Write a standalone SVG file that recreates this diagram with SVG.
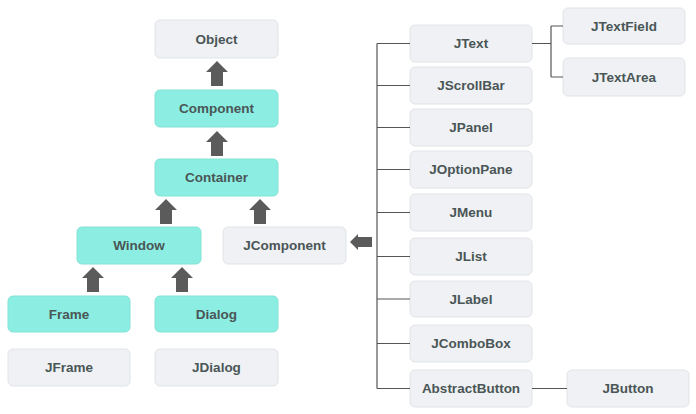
<svg xmlns="http://www.w3.org/2000/svg" width="696" height="414" viewBox="0 0 696 414">
<defs>
<style>
.g{fill:#eff1f4;stroke:#e1e4e8;stroke-width:1}
.t{fill:#8ceee2;stroke:#84e2d6;stroke-width:1}
text{font-family:"Liberation Sans",Arial,sans-serif;font-weight:bold;font-size:13.5px;fill:#4a5656;text-anchor:middle;dominant-baseline:central}
.ln{stroke:#555;stroke-width:1.2;fill:none}
.ar{fill:#5b5b5b}
</style>
<path id="up" d="M0,0 L11,11 L6,11 L6,25 L-6,25 L-6,11 L-11,11 Z"/>
</defs>
<rect width="696" height="414" fill="#fff"/>
<g id="Object"><rect class="g" x="155" y="20" width="123" height="38" rx="5"/><text x="216.5" y="39">Object</text></g>
<g id="Component"><rect class="t" x="155" y="90" width="123" height="37" rx="5"/><text x="216.5" y="108.5">Component</text></g>
<g id="Container"><rect class="t" x="155" y="159" width="123" height="37" rx="5"/><text x="216.5" y="177.5">Container</text></g>
<g id="Window"><rect class="t" x="77" y="227" width="124" height="37" rx="5"/><text x="139" y="245.5">Window</text></g>
<g id="JComponent"><rect class="g" x="223" y="227" width="123" height="37" rx="5"/><text x="284.5" y="245.5">JComponent</text></g>
<g id="Frame"><rect class="t" x="8" y="296" width="122" height="36" rx="5"/><text x="69" y="314">Frame</text></g>
<g id="Dialog"><rect class="t" x="155" y="296" width="123" height="36" rx="5"/><text x="216.5" y="314">Dialog</text></g>
<g id="JFrame"><rect class="g" x="8" y="349" width="122" height="37" rx="5"/><text x="69" y="367.5">JFrame</text></g>
<g id="JDialog"><rect class="g" x="155" y="349" width="123" height="37" rx="5"/><text x="216.5" y="367.5">JDialog</text></g>
<g id="JText"><rect class="g" x="410" y="25" width="122" height="37" rx="5"/><text x="471" y="43.5">JText</text></g>
<g id="JScrollBar"><rect class="g" x="410" y="67" width="122" height="37" rx="5"/><text x="471" y="85.5">JScrollBar</text></g>
<g id="JPanel"><rect class="g" x="410" y="109" width="122" height="37" rx="5"/><text x="471" y="127.5">JPanel</text></g>
<g id="JOptionPane"><rect class="g" x="410" y="151" width="122" height="37" rx="5"/><text x="471" y="169.5">JOptionPane</text></g>
<g id="JMenu"><rect class="g" x="410" y="194" width="122" height="37" rx="5"/><text x="471" y="212.5">JMenu</text></g>
<g id="JList"><rect class="g" x="410" y="238" width="122" height="37" rx="5"/><text x="471" y="256.5">JList</text></g>
<g id="JLabel"><rect class="g" x="410" y="281" width="122" height="36" rx="5"/><text x="471" y="299">JLabel</text></g>
<g id="JComboBox"><rect class="g" x="410" y="325" width="122" height="37" rx="5"/><text x="471" y="343.5">JComboBox</text></g>
<g id="AbstractButton"><rect class="g" x="410" y="370" width="122" height="37" rx="5"/><text x="471" y="388.5">AbstractButton</text></g>
<g id="JTextField"><rect class="g" x="563" y="8" width="122" height="36" rx="5"/><text x="624" y="26">JTextField</text></g>
<g id="JTextArea"><rect class="g" x="563" y="58" width="122" height="38" rx="5"/><text x="624" y="77">JTextArea</text></g>
<g id="JButton"><rect class="g" x="567" y="370" width="122" height="37" rx="5"/><text x="628" y="388.5">JButton</text></g>
<g id="connectors">
<use href="#up" class="ar" x="217" y="61"/>
<use href="#up" class="ar" x="217" y="131"/>
<use href="#up" class="ar" x="166" y="199"/>
<use href="#up" class="ar" x="260" y="199"/>
<use href="#up" class="ar" x="93" y="267"/>
<use href="#up" class="ar" x="182" y="267"/>
<path class="ar" d="M350,242 L358,234 L358,237 L372,237 L372,247 L358,247 L358,250 Z"/>
<path class="ln" d="M377,43.5 V388.5 M377,43.5 H410 M377,85.5 H410 M377,127.5 H410 M377,169.5 H410 M377,212.5 H410 M377,256.5 H410 M377,299 H410 M377,343.5 H410 M377,388.5 H410"/>
<path class="ln" d="M532,43.5 H551 M551,26 V77 M551,26 H563 M551,77 H563"/>
<path class="ln" d="M532,388.5 H567"/>
</g>
</svg>
